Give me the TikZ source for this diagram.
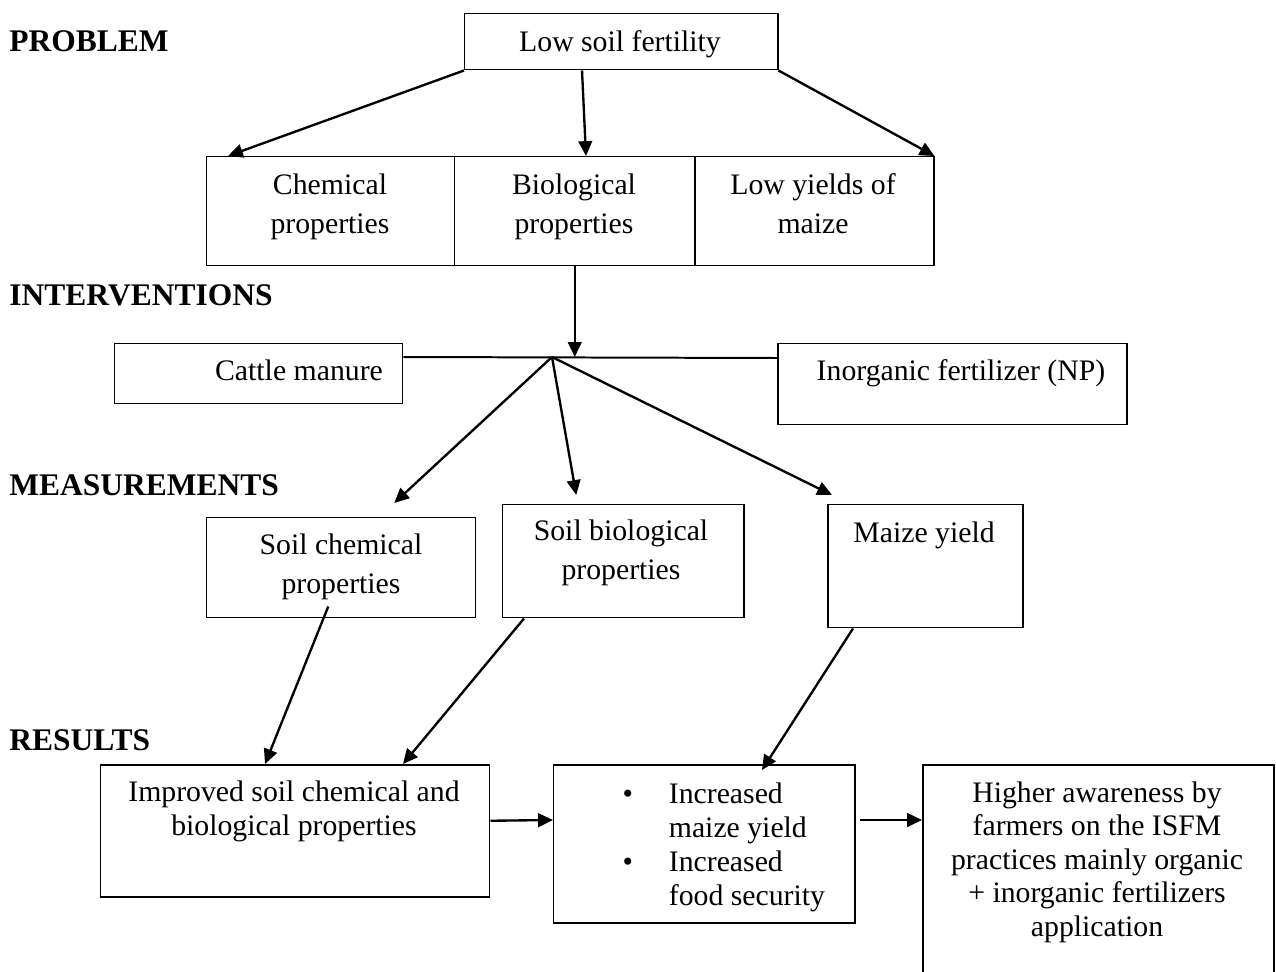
\documentclass[tikz,border=0pt]{standalone}
\usepackage{fontspec}
\setmainfont{Liberation Serif}
\usepackage{tikz}
\usetikzlibrary{arrows.meta, positioning, calc}
\newcommand{\pxu}{0.014174cm}

\begin{document}
\begin{tikzpicture}[x=\pxu, y=-\pxu,
    box/.style={draw, line width=0.6pt, inner sep=0pt, anchor=north west},
    txt/.style={align=center, inner sep=0pt, anchor=base, font=\fontsize{12}{13.5}\selectfont},
    txtwide/.style={align=center, inner sep=0pt, anchor=base, font=\fontsize{12}{15.5}\selectfont},
    stage/.style={inner sep=0pt, anchor=base west, font=\bfseries\fontsize{12.7}{15}\selectfont},
    arr/.style={->, >={Triangle[length=6pt, width=5.5pt]}, line width=0.95pt}]
    \useasboundingbox (0,0) rectangle (1276,971);

    % Stage headings
    \node[stage] (problem) at (9,52) {PROBLEM};
    \node[stage] (interv) at (9,305) {INTERVENTIONS};
    \node[stage] (measure) at (9,495) {MEASUREMENTS};
    \node[stage] (results) at (9,750) {RESULTS};

    % Problem (multi-line texts sit on the baseline of their last line)
    \node[box, minimum width=313*\pxu, minimum height=56*\pxu] (lsf) at (464,13) {};
    \node[txt] (lsf-t) at (620,52) {Low soil fertility};

    \node[box, minimum width=248*\pxu, minimum height=109*\pxu] (chem) at (206,156) {};
    \node[box, minimum width=240*\pxu, minimum height=109*\pxu] (bio) at (454,156) {};
    \node[box, minimum width=239*\pxu, minimum height=109*\pxu] (lowy) at (694,156) {};
    \node[txtwide] (chem-t) at (330,233) {Chemical\\properties};
    \node[txtwide] (bio-t) at (574,233) {Biological\\properties};
    \node[txtwide] (lowy-t) at (813,233) {Low yields of\\maize};

    \draw[arr] (lsf.south west) -- ($(chem.north west)+(22,0)$);
    \draw[arr] ($(lsf.south west)+(118,0)$) -- ($(bio.north west)+(132,0)$);
    \draw[arr] (lsf.south east) -- (lowy.north east);

    % Interventions
    \node[box, minimum width=288*\pxu, minimum height=60*\pxu] (manure) at (114,343) {};
    \node[box, minimum width=349*\pxu, minimum height=81*\pxu] (inorg) at (777,343) {};
    \node[txt] (manure-t) at (299,380) {Cattle manure};
    \node[txt] (inorg-t) at (961,380) {Inorganic fertilizer (NP)};
    \coordinate (hub) at (552,357);

    \draw[line width=0.8pt] ($(manure.north east)+(0,14)$) -- ($(inorg.north west)+(0,15)$);
    \draw[arr] (bio.south) -- (bio.south |- hub);

    % Measurements
    \node[box, minimum width=269*\pxu, minimum height=100*\pxu] (schem) at (206,517) {};
    \node[box, minimum width=241*\pxu, minimum height=113*\pxu] (sbio) at (502,504) {};
    \node[box, minimum width=195*\pxu, minimum height=123*\pxu] (maize) at (827,504) {};
    \node[txtwide] (schem-t) at (341,593) {Soil chemical\\properties};
    \node[txtwide] (sbio-t) at (621,579) {Soil biological\\properties};
    \node[txt] (maize-t) at (924,542) {Maize yield};

    \draw[arr] (hub) -- ($(schem.north)+(53,-14)$);
    \draw[arr] (hub) -- ($(sbio.north)+(-47,-9)$);
    \draw[arr] (hub) -- ($(maize.north west)+(5,-9)$);

    % Results
    \node[box, minimum width=389*\pxu, minimum height=132*\pxu] (improved) at (100,764) {};
    \node[box, minimum width=301*\pxu, minimum height=158*\pxu] (incr) at (553,764) {};
    \node[box, minimum width=351*\pxu, minimum height=230*\pxu] (higher) at (922,764) {};
    \node[txt] (improved-t) at (294,835) {Improved soil chemical and\\biological properties};
    \node[inner sep=0pt, anchor=base west, font=\fontsize{12}{13.8}\selectfont] (incr-t) at (622,803)
        {\begin{tabular}[t]{@{}l@{\hspace{14.5pt}}l@{}}
            \textbullet & Increased\\
                        & maize yield\\
            \textbullet & Increased\\
                        & food security
        \end{tabular}};
    \node[txt] (higher-t) at (1097,936) {Higher awareness by\\farmers on the ISFM\\practices mainly organic\\+ inorganic fertilizers\\application};

    \draw[arr] ($(schem.south)+(-13,-12)$) -- ($(improved.north west)+(165,0)$);
    \draw[arr] ($(sbio.south west)+(22,0)$) -- ($(improved.north west)+(303,0)$);
    \draw[arr] ($(maize.south west)+(26,0)$) -- ($(incr.north west)+(209,6)$);
    \draw[arr] ($(improved.east)+(0,-10)$) -- ($(incr.north west)+(0,56)$);
    \draw[arr] ($(incr.north east)+(4,56)$) -- ($(higher.north west)+(0,56)$);
\end{tikzpicture}
\end{document}
